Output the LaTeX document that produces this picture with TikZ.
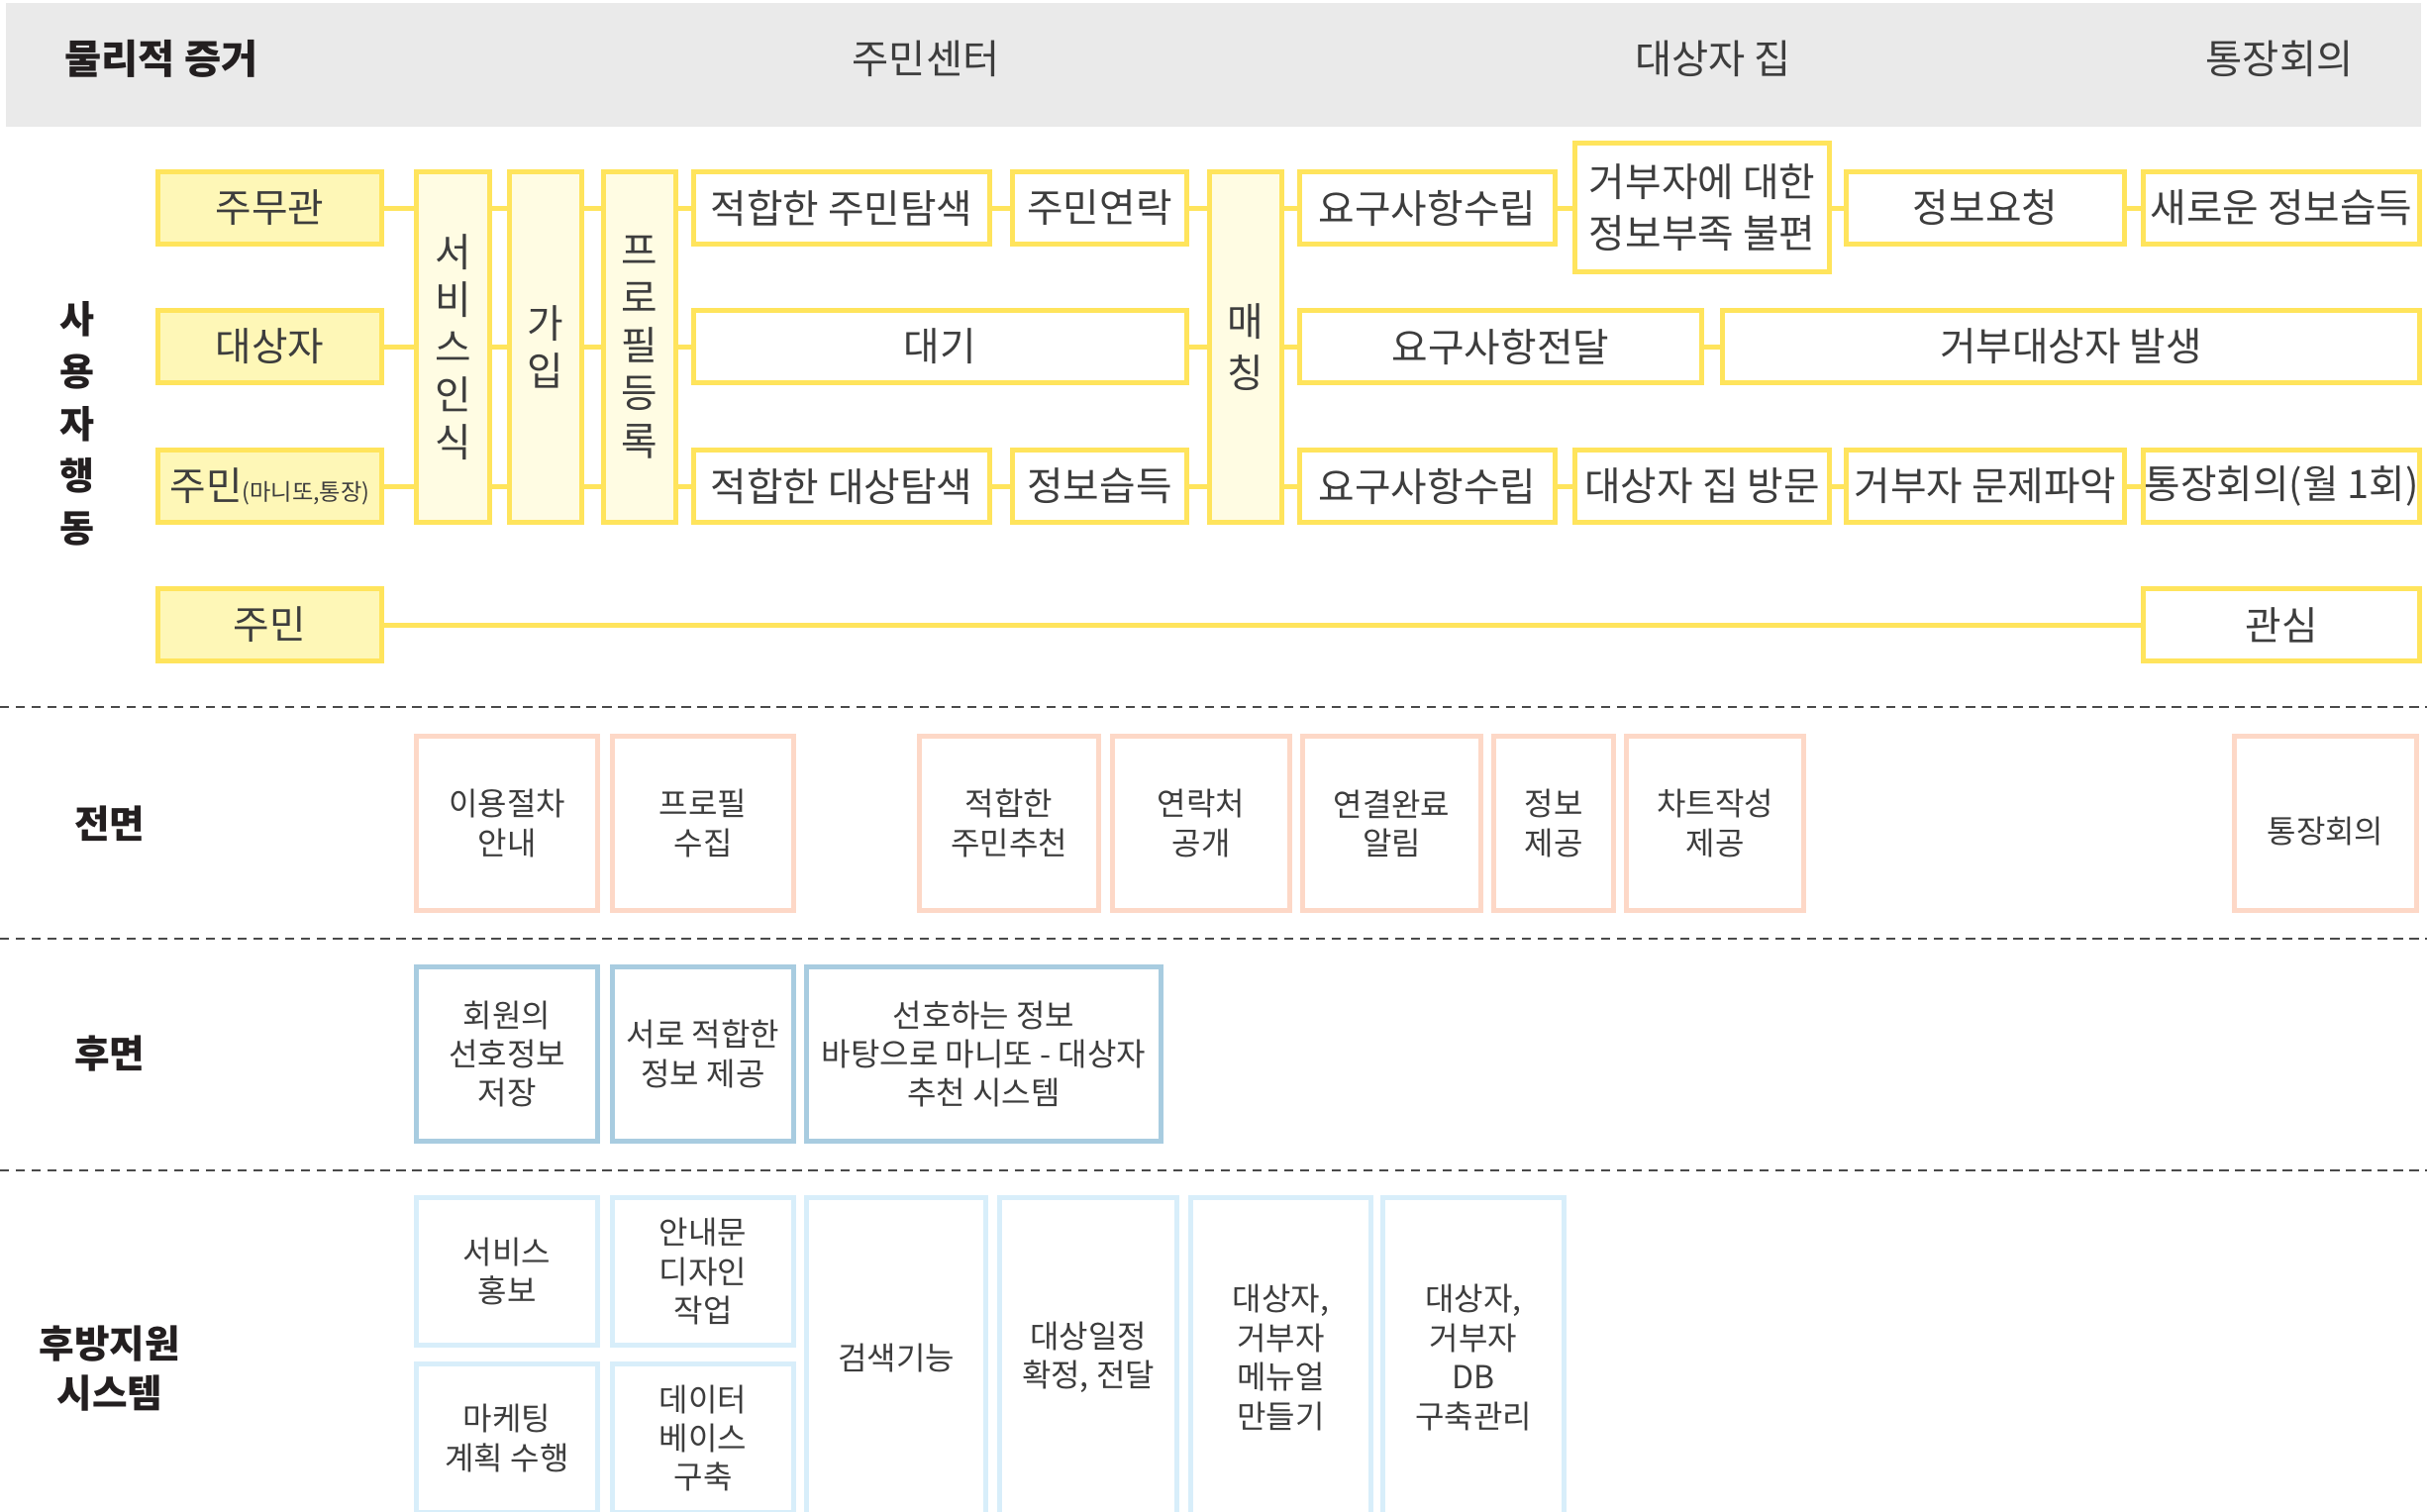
\documentclass[tikz,border=0pt]{standalone}
\usepackage{fontspec}
\setmainfont{Noto Sans CJK KR}
\usepackage{tikz}
\definecolor{ylw}{HTML}{FFE45C}
\definecolor{ylwfill}{HTML}{FEF7B7}
\definecolor{ylwpale}{HTML}{FFFCE3}
\definecolor{frontpink}{HTML}{FDD8C7}
\definecolor{backblue}{HTML}{A8CCE0}
\definecolor{suppsky}{HTML}{D8EEFA}
\definecolor{bandgray}{HTML}{EAEAEA}
\definecolor{ink}{HTML}{3D3D3D}
\definecolor{dark}{HTML}{231F20}
\definecolor{lanegray}{HTML}{4A4A4A}

\begin{document}
\begin{tikzpicture}[x=0.01cm, y=-0.01cm,
        txt/.style={text=ink, align=center, font=\fontsize{11.3}{13.7}\selectfont},
        box/.style={txt, draw=ylw, line width=1.42pt, inner sep=0pt, outer sep=0pt},
        who/.style={box, fill=ylwfill, minimum width=2.26cm, minimum height=0.73cm},
        stage/.style={box, fill=ylwpale, minimum width=0.73cm, minimum height=3.54cm},
        act/.style={box, fill=white, minimum height=0.73cm},
        link/.style={draw=ylw, line width=1.42pt},
        small/.style={txt, font=\fontsize{9.1}{11.2}\selectfont, line width=1.42pt,
                      inner sep=0pt, outer sep=0pt, fill=white},
        front/.style={small, draw=frontpink, minimum height=1.76cm},
        back/.style={small, draw=backblue, minimum height=1.76cm},
        supp/.style={small, draw=suppsky},
        head/.style={text=ink, font=\fontsize{11.5}{13.7}\selectfont},
        side/.style={text=dark, align=center, font=\bfseries\fontsize{11}{14.2}\selectfont},
        lane/.style={draw=lanegray, line width=0.5pt, dash pattern=on 0.093cm off 0.067cm}]

    \clip (0,0) rectangle (2451,1526);

    % header band
    \fill[bandgray] (6,3) rectangle (2445,128);
    \node[side, font=\bfseries\fontsize{11.5}{14}\selectfont] (evid) at (163,59) {물리적 증거};
    \node[head] (hcenter) at (935,59) {주민센터};
    \node[head] (hhome) at (1730,59) {대상자 집};
    \node[head] (hmeet) at (2302,59) {통장회의};

    % lane labels
    \node[side, font=\bfseries\fontsize{10.8}{15}\selectfont] (actlbl) at (78,428) {사\\용\\자\\행\\동};
    \node[side] (frontlbl) at (111,831.5) {전면};
    \node[side] (backlbl) at (111,1064.5) {후면};
    \node[side] (supplbl) at (111,1382) {후방지원\\시스템};

    % lane separators
    \draw[lane] (0,714) -- (2451,714);
    \draw[lane] (0,948) -- (2451,948);
    \draw[lane] (0,1182) -- (2451,1182);

    % user actions
    \node[who] (clerk) at (272.5,210) {주무관};
    \node[who] (target) at (272.5,350) {대상자};
    \node[who] (resident) at (272.5,491) {주민{\fontsize{6.6}{8}\selectfont(마니또,통장)}};
    \node[who] (citizen) at (272.5,631) {주민};

    \node[stage, minimum width=0.74cm] (svc) at (457.5,350.5) {서\\비\\스\\인\\식};
    \node[stage] (join) at (551,350.5) {가\\입};
    \node[stage] (prof) at (646,350.5) {프\\로\\필\\등\\록};

    \node[act, minimum width=2.99cm] (find1) at (850,210) {적합한 주민탐색};
    \node[act, minimum width=1.76cm] (call) at (1110.5,210) {주민연락};
    \node[act, minimum width=4.98cm] (wait) at (949.5,350) {대기};
    \node[act, minimum width=2.99cm] (find2) at (850,491) {적합한 대상탐색};
    \node[act, minimum width=1.76cm] (learn) at (1110.5,491) {정보습득};

    \node[stage, font=\fontsize{11.3}{15}\selectfont] (match) at (1258,350.5) {매\\칭};

    \node[act, minimum width=2.58cm] (req1) at (1441.5,210) {요구사항수립};
    \node[act, minimum width=2.57cm, minimum height=1.30cm,
          font=\fontsize{11.3}{14.7}\selectfont] (lack) at (1719,209.5) {거부자에 대한\\정보부족 불편};
    \node[act, minimum width=2.81cm] (ask) at (2005,210) {정보요청};
    \node[act, minimum width=2.79cm] (newinfo) at (2304,210) {새로운 정보습득};
    \node[act, minimum width=4.06cm] (relay) at (1515.5,350) {요구사항전달};
    \node[act, minimum width=7.04cm] (refusal) at (2091.5,350) {거부대상자 발생};
    \node[act, minimum width=2.58cm] (req2) at (1441.5,491) {요구사항수립};
    \node[act, minimum width=2.57cm] (visit) at (1719,491) {대상자 집 방문};
    \node[act, minimum width=2.81cm] (issue) at (2005,491) {거부자 문제파악};
    \node[act, minimum width=2.79cm] (monthly) at (2304,491) {통장회의(월 1회)};
    \node[act, minimum width=2.79cm] (interest) at (2304,631) {관심};

    % connectors
    \foreach \r in {clerk,target,resident}{
        \draw[link] (\r.east) -- (\r.east -| svc.west);
        \draw[link] (svc.east |- \r) -- (join.west |- \r);
        \draw[link] (join.east |- \r) -- (prof.west |- \r);
    }
    \draw[link] (prof.east |- find1) -- (find1.west);
    \draw[link] (prof.east |- wait) -- (wait.west);
    \draw[link] (prof.east |- find2) -- (find2.west);
    \draw[link] (find1.east) -- (call.west);
    \draw[link] (find2.east) -- (learn.west);
    \draw[link] (call.east) -- (match.west |- call);
    \draw[link] (wait.east) -- (match.west |- wait);
    \draw[link] (learn.east) -- (match.west |- learn);
    \draw[link] (match.east |- req1) -- (req1.west);
    \draw[link] (match.east |- relay) -- (relay.west);
    \draw[link] (match.east |- req2) -- (req2.west);
    \draw[link] (req1.east) -- (lack.west |- req1);
    \draw[link] (lack.east |- ask) -- (ask.west);
    \draw[link] (ask.east) -- (newinfo.west);
    \draw[link] (relay.east) -- (refusal.west);
    \draw[link] (req2.east) -- (visit.west);
    \draw[link] (visit.east) -- (issue.west);
    \draw[link] (issue.east) -- (monthly.west);
    \draw[link] (citizen.east) -- (interest.west);

    % front stage
    \node[front, minimum width=1.83cm] (guide) at (512,831.5) {이용절차\\안내};
    \node[front, minimum width=1.83cm] (profile) at (710,831.5) {프로필\\수집};
    \node[front, minimum width=1.81cm] (suggest) at (1019,831.5) {적합한\\주민추천};
    \node[front, minimum width=1.79cm] (reveal) at (1213,831.5) {연락처\\공개};
    \node[front, minimum width=1.80cm] (notice) at (1405.5,831.5) {연결완료\\알림};
    \node[front, minimum width=1.21cm] (give) at (1569,831.5) {정보\\제공};
    \node[front, minimum width=1.79cm] (chart) at (1732,831.5) {차트작성\\제공};
    \node[front, minimum width=1.84cm, text height=0.42cm, text depth=0.03cm] (meeting) at (2348.5,831.5) {통장회의};

    % back stage
    \node[back, minimum width=1.83cm] (store) at (512,1064.5) {회원의\\선호정보\\저장};
    \node[back, minimum width=1.83cm] (share) at (710,1064.5) {서로 적합한\\정보 제공};
    \node[back, minimum width=3.58cm] (engine) at (993.5,1064.5) {선호하는 정보\\바탕으로 마니또 - 대상자\\추천 시스템};

    % support
    \node[supp, minimum width=1.83cm, minimum height=1.49cm] (promo) at (512,1284) {서비스\\홍보};
    \node[supp, minimum width=1.83cm, minimum height=1.50cm] (plan) at (512,1452.5) {마케팅\\계획 수행};
    \node[supp, minimum width=1.83cm, minimum height=1.49cm] (design) at (710,1284) {안내문\\디자인\\작업};
    \node[supp, minimum width=1.83cm, minimum height=1.50cm] (dbase) at (710,1452.5) {데이터\\베이스\\구축};
    \node[supp, minimum width=1.81cm, minimum height=3.23cm] (searchfn) at (905,1371) {검색기능};
    \node[supp, minimum width=1.79cm, minimum height=3.23cm] (sched) at (1099,1371) {대상일정\\확정, 전달};
    \node[supp, minimum width=1.82cm, minimum height=3.23cm] (manual) at (1293.5,1371) {대상자,\\거부자\\메뉴얼\\만들기};
    \node[supp, minimum width=1.83cm, minimum height=3.23cm] (dbm) at (1488,1371) {대상자,\\거부자\\DB\\구축관리};
\end{tikzpicture}
\end{document}
